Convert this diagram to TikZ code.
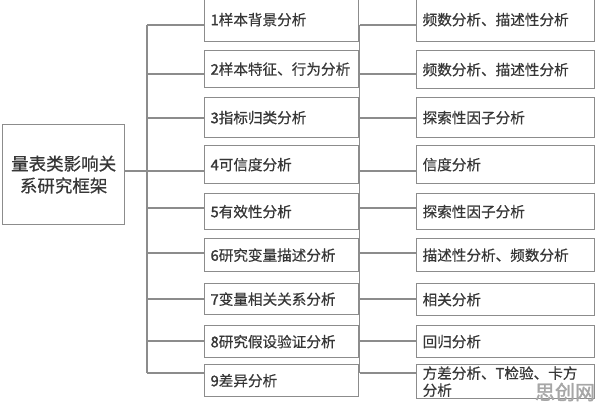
\documentclass[tikz,border=0pt]{standalone}
\usepackage{fontspec}
\setmainfont{Noto Sans CJK SC}[FakeBold=0.5, AutoFakeBold=1.8]
\definecolor{ln}{RGB}{140,140,140}
\definecolor{tx}{RGB}{55,55,55}
\begin{document}
\begin{tikzpicture}[x=1pt,y=-1pt,
  midbox/.style={draw=ln, line width=1.3pt, anchor=north west, inner xsep=6pt, inner ysep=0pt,
    text width=142pt, align=left, text=tx, font=\fontsize{14.6}{17}\selectfont},
  rightbox/.style={draw=ln, line width=1.3pt, anchor=north west, inner xsep=6pt, inner ysep=0pt,
    text width=166pt, align=left, text=tx, font=\fontsize{14.6}{17}\selectfont},
  mainbox/.style={draw=ln, line width=1.3pt, anchor=north west, inner sep=0pt,
    minimum width=122pt, minimum height=100pt, align=center, text=tx,
    font=\fontsize{17.5}{22}\selectfont},
  conn/.style={draw=ln, line width=1.3pt}]
\useasboundingbox (0,0) rectangle (596,404);
\node[mainbox] (main) at (2,124) {量表类影响关\\系研究框架};
\foreach \n/\t/\b/\lab in {
  1/-3/41/{\textbf{1}样本背景分析},
  2/50/87/{\textbf{2}样本特征、行为分析},
  3/97/137/{\textbf{3}指标归类分析},
  4/145/183/{\textbf{4}可信度分析},
  5/193/229/{\textbf{5}有效性分析},
  6/238/271/{\textbf{6}研究变量描述分析},
  7/283/314/{\textbf{7}变量相关关系分析},
  8/325/357/{\textbf{8}研究假设验证分析},
  9/364/396/{\textbf{9}差异分析}}{
  \pgfmathsetmacro\hh{\b-\t}
  \node[midbox, minimum height=\hh pt] (m\n) at (204,\t) {\lab};
}
\foreach \n/\t/\b/\lab in {
  1/-3/41/{频数分析、描述性分析},
  2/50/88/{频数分析、描述性分析},
  3/97/137/{探索性因子分析},
  4/145/183/{信度分析},
  5/193/229/{探索性因子分析},
  6/238/271/{描述性分析、频数分析},
  7/283/315/{相关分析},
  8/325/357/{回归分析}}{
  \pgfmathsetmacro\hh{\b-\t}
  \node[rightbox, minimum height=\hh pt] (r\n) at (416,\t) {\lab};
}
\node[rightbox, minimum height=34pt] (r9) at (416,364)
  {方差分析、\textbf{T}检验、卡方\\分析};
% trunks
\coordinate (lt) at (147,25);
\coordinate (lb) at (147,373);
\coordinate (rt) at (359.5,25);
\coordinate (rb) at (359.5,373);
\draw[conn] (lt) -- (lb);
\draw[conn] (rt) -- (rb);
\draw[conn] (main.east |- 0,171) -- (lt |- 0,171);
\foreach \n/\y in {1/25,2/74,3/118,4/171,5/208,6/253,7/299,8/341,9/373}{
  \draw[conn] (lt |- 0,\y) -- (m\n.west |- 0,\y);
  \draw[conn] (rt |- 0,\y) -- (r\n.west |- 0,\y);
}
\node[text=black!35, font=\fontsize{20}{22}\selectfont\bfseries] (wm) at (565,392) {思创网};
\end{tikzpicture}
\end{document}
